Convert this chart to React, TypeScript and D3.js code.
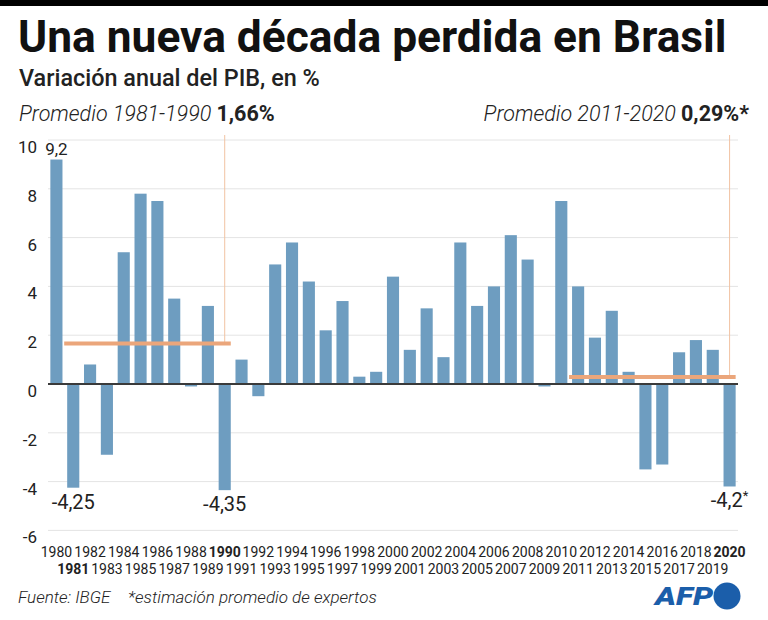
import React, { useEffect, useRef } from "react";
import * as d3 from "d3";

const years = [
  1980, 1981, 1982, 1983, 1984, 1985, 1986, 1987, 1988, 1989,
  1990, 1991, 1992, 1993, 1994, 1995, 1996, 1997, 1998, 1999,
  2000, 2001, 2002, 2003, 2004, 2005, 2006, 2007, 2008, 2009,
  2010, 2011, 2012, 2013, 2014, 2015, 2016, 2017, 2018, 2019,
  2020
];

// variación anual del PIB, %
const growth = [
  9.2, -4.25, 0.8, -2.9, 5.4, 7.8, 7.5, 3.5, -0.1, 3.2,
  -4.35, 1.0, -0.5, 4.9, 5.8, 4.2, 2.2, 3.4, 0.3, 0.5,
  4.4, 1.4, 3.1, 1.1, 5.8, 3.2, 4.0, 6.1, 5.1, -0.1,
  7.5, 4.0, 1.9, 3.0, 0.5, -3.5, -3.3, 1.3, 1.8, 1.4,
  -4.2
];

const yTicks = [-6, -4, -2, 0, 2, 4, 6, 8, 10];
const boldYears = [1981, 1990, 2020];

// promedios por década
const avgStart = [1981, 2011];
const avgEnd = [1990, 2020];
const avgValues = [1.66, 0.29];
const avgTitles = ["Promedio 1981-1990 ", "Promedio 2011-2020 "];
const avgTexts = ["1,66%", "0,29%*"];

// valores anotados sobre las barras
const noteYears = [1980, 1981, 1990, 2020];
const noteTexts = ["9,2", "-4,25", "-4,35", "-4,2"];

const W = 768;
const H = 620;
const BAR = "#6e9dc0";
const AVG = "#eba67b";
const FONT = "'Liberation Sans Narrow', Roboto, sans-serif";
const BODY = "Roboto, 'Noto Sans', sans-serif";

export default function App() {
  const svgRef = useRef<SVGSVGElement | null>(null);

  useEffect(() => {
    const svg = d3.select(svgRef.current);
    svg.selectAll("*").remove();

    const x = d3.scaleBand<number>()
      .domain(years)
      .range([48, 738])
      .paddingInner(0.28)
      .paddingOuter(0.14);
    const y = d3.scaleLinear().domain([-6, 10]).range([530.4, 140]);
    const bw = x.bandwidth();

    svg.append("rect").attr("width", W).attr("height", H).attr("fill", "#fff");
    svg.append("rect").attr("width", W).attr("height", 6).attr("fill", "#000");

    // titulos
    svg.append("text")
      .attr("x", 18).attr("y", 52)
      .style("font-family", BODY).style("font-weight", 700)
      .style("font-size", "44.3px").style("fill", "#111")
      .text("Una nueva década perdida en Brasil");
    svg.append("text")
      .attr("x", 19).attr("y", 86)
      .style("font-family", BODY).style("font-weight", 500)
      .style("font-size", "23.4px").style("fill", "#222")
      .text("Variación anual del PIB, en %");

    // grilla
    svg.append("g").selectAll("line")
      .data(yTicks.filter((t) => t !== 0))
      .enter().append("line")
      .attr("x1", 48).attr("x2", 738)
      .attr("y1", (d) => y(d)).attr("y2", (d) => y(d))
      .attr("stroke", "#e4e4e4").attr("stroke-width", 1);

    svg.append("g").selectAll("text")
      .data(yTicks)
      .enter().append("text")
      .attr("x", 37).attr("y", (d) => y(d) + 13)
      .attr("text-anchor", "end")
      .style("font-family", BODY).style("font-size", "17px").style("fill", "#222")
      .text((d) => d);

    // barras
    svg.append("g").selectAll("rect")
      .data(years)
      .enter().append("rect")
      .attr("x", (d) => x(d)!)
      .attr("width", bw)
      .attr("y", (d, i) => y(Math.max(0, growth[i])))
      .attr("height", (d, i) => Math.abs(y(growth[i]) - y(0)))
      .attr("fill", BAR);

    svg.append("line")
      .attr("x1", 48).attr("x2", 738)
      .attr("y1", y(0)).attr("y2", y(0))
      .attr("stroke", "#3a3a3a").attr("stroke-width", 2);

    // promedios
    avgValues.forEach((v, i) => {
      const xEnd = x(avgEnd[i])! + bw / 2;
      svg.append("line")
        .attr("x1", xEnd).attr("x2", xEnd)
        .attr("y1", 135).attr("y2", y(v))
        .attr("stroke", "#f1c3a3").attr("stroke-width", 1);
      svg.append("line")
        .attr("x1", x(avgStart[i])! - 3).attr("x2", x(avgEnd[i])! + bw)
        .attr("y1", y(v)).attr("y2", y(v))
        .attr("stroke", AVG).attr("stroke-width", 4);
      const t = svg.append("text")
        .attr("x", i === 0 ? 19 : 749).attr("y", 121)
        .attr("text-anchor", i === 0 ? "start" : "end")
        .style("font-family", BODY).style("font-size", "21.5px").style("fill", "#222");
      t.append("tspan").style("font-style", "italic").style("font-weight", 300).text(avgTitles[i]);
      t.append("tspan").style("font-weight", 700).text(avgTexts[i]);
    });

    // anotaciones
    noteYears.forEach((yr, k) => {
      const v = growth[years.indexOf(yr)];
      const cx = x(yr)! + bw / 2;
      const t = svg.append("text")
        .attr("x", cx)
        .attr("y", v > 0 ? y(v) - 5 : y(v) + 21)
        .attr("text-anchor", "middle")
        .style("font-family", BODY)
        .style("font-size", v > 0 ? "17px" : "20px")
        .style("fill", "#222")
        .text(noteTexts[k]);
      if (yr === 2020) {
        t.append("tspan").attr("dy", -7).style("font-size", "13px").text("*");
      }
    });

    // años
    svg.append("g").selectAll("text")
      .data(years)
      .enter().append("text")
      .attr("x", (d) => x(d)! + bw / 2)
      .attr("y", (d, i) => (i % 2 === 0 ? 556.7 : 574.3))
      .attr("text-anchor", "middle")
      .style("font-family", FONT)
      .style("font-size", "14px")
      .style("font-weight", (d) => (boldYears.includes(d) ? 700 : 400))
      .style("fill", "#222")
      .text((d) => d);

    // pie
    svg.append("text")
      .attr("x", 18).attr("y", 603)
      .style("font-family", BODY).style("font-style", "italic").style("font-weight", 300)
      .style("font-size", "17px").style("fill", "#222")
      .text("Fuente: IBGE");
    svg.append("text")
      .attr("x", 128).attr("y", 603)
      .style("font-family", BODY).style("font-style", "italic").style("font-weight", 300)
      .style("font-size", "17px").style("fill", "#222")
      .text("*estimación promedio de expertos");

    svg.append("text")
      .attr("x", 655).attr("y", 605)
      .attr("textLength", 58).attr("lengthAdjust", "spacingAndGlyphs")
      .style("font-family", BODY).style("font-style", "italic").style("font-weight", 900)
      .style("font-size", "25px").style("fill", "#1b5eaa")
      .text("AFP");
    svg.append("circle")
      .attr("cx", 727).attr("cy", 596).attr("r", 13.5)
      .attr("fill", "#1b5eaa");
  }, []);

  return (
    <svg
      ref={svgRef}
      width={W}
      height={H}
      style={{ position: "absolute", left: 0, top: 0 }}
    />
  );
}
